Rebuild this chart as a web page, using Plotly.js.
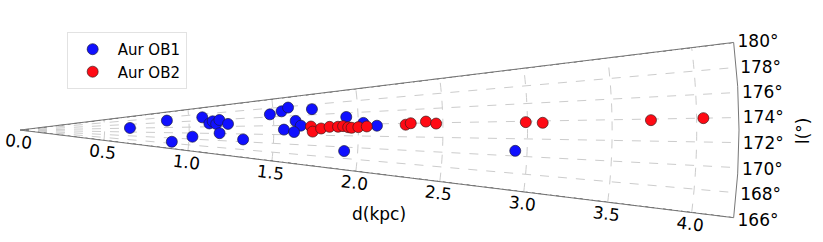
<!DOCTYPE html>
<html>
<head>
<meta charset="utf-8">
<script src="https://cdn.plot.ly/plotly-3.0.1.min.js"></script>
<style>html,body{margin:0;padding:0;background:#fff;}#chart{width:823px;height:242px;}</style>
</head>
<body>
<div id="chart"></div>
<script>
// Aur OB1 (blue): distance (kpc) and galactic longitude (deg)
const ob1_d = [0.65, 0.87, 0.90, 1.02, 1.08, 1.12, 1.14, 1.16, 1.18, 1.23, 1.18, 1.32,
               1.48, 1.55, 1.59, 1.73, 1.63, 1.66, 1.56, 1.62, 1.93, 1.92, 2.03, 2.11, 2.93];
const ob1_l = [174.1, 176.7, 168.6, 170.8, 177.0, 175.0, 175.6, 174.8, 175.9, 174.7, 172.1, 170.6,
               176.6, 177.1, 177.8, 177.1, 174.9, 173.9, 173.1, 172.6, 175.3, 169.3, 174.2, 173.7, 170.6];
// Aur OB2 (red)
const ob2_d = [1.72, 1.73, 1.78, 1.83, 1.88, 1.91, 1.94, 1.96, 2.00, 2.05,
               2.28, 2.31, 2.40, 2.46, 2.99, 3.09, 3.73, 4.04];
const ob2_l = [173.7, 172.7, 173.3, 173.6, 173.6, 173.7, 173.5, 173.4, 173.5, 173.6,
               173.8, 174.0, 174.2, 173.9, 173.9, 173.8, 173.9, 174.0];

const seriesNames = ['Aur OB1', 'Aur OB2'];
const lTicks = [166, 168, 170, 172, 174, 176, 178, 180];
const lTickText = lTicks.map(v => v + '°');
const dTicks = [0.0, 0.5, 1.0, 1.5, 2.0, 2.5, 3.0, 3.5, 4.0];
const L_MIN = 166, L_MAX = 180, D_MAX = 4.25;

const font = 'DejaVu Sans, sans-serif';
const lMid = (L_MIN + L_MAX) / 2;

const traces = [
  {type: 'scatterpolar', mode: 'lines', r: [0, D_MAX], theta: [L_MAX, L_MAX],
   line: {color: '#333', width: 1, dash: 'dot'}, showlegend: false, hoverinfo: 'skip'},
  {type: 'scatterpolar', mode: 'lines', r: [0, D_MAX], theta: [L_MIN, L_MIN],
   line: {color: '#333', width: 1, dash: 'dot'}, showlegend: false, hoverinfo: 'skip'},
  {type: 'scatterpolar', mode: 'markers', name: seriesNames[0], r: ob1_d, theta: ob1_l,
   marker: {color: '#1010ff', size: 11, line: {color: '#1a1a40', width: 0.7}}},
  {type: 'scatterpolar', mode: 'markers', name: seriesNames[1], r: ob2_d, theta: ob2_l,
   marker: {color: '#ff0a14', size: 11, line: {color: '#401a1a', width: 0.7}}}
];

const layout = {
  width: 823, height: 242,
  margin: {l: 0, r: 0, t: 0, b: 0},
  paper_bgcolor: '#fff',
  font: {family: font, size: 17, color: '#000'},
  showlegend: true,
  legend: {x: 0.081, y: 0.868, xanchor: 'left', yanchor: 'top',
           bgcolor: '#fff', bordercolor: '#e2e2e2', borderwidth: 1,
           font: {family: font, size: 15, color: '#000'}, itemwidth: 40},
  polar: {
    domain: {x: [20/823, 739/823], y: [0.05, 0.875]},
    sector: [-(L_MAX - L_MIN) / 2, (L_MAX - L_MIN) / 2],
    bgcolor: '#fff',
    angularaxis: {
      rotation: -lMid, direction: 'counterclockwise', thetaunit: 'degrees',
      tickmode: 'array', tickvals: lTicks, ticktext: lTickText, ticks: '',
      showgrid: true, gridcolor: '#cccccc', griddash: 'dash', gridwidth: 1,
      showline: true, linecolor: '#777', linewidth: 1,
      tickfont: {family: font, size: 17, color: '#000'}
    },
    radialaxis: {
      range: [0, D_MAX], tickmode: 'array', tickvals: dTicks, tickformat: '.1f',
      ticks: '', showline: false,
      showgrid: true, gridcolor: '#cccccc', griddash: 'dash', gridwidth: 1,
      tickfont: {family: font, size: 17, color: '#000'}, tickangle: 0
    }
  },
  annotations: [
    {text: 'd(kpc)', xref: 'paper', yref: 'paper', x: 379/823, y: 1 - 214/242,
     xanchor: 'center', yanchor: 'middle',
     showarrow: false, font: {family: font, size: 17, color: '#000'}},
    {text: 'l(°)', xref: 'paper', yref: 'paper', x: 803/823, y: 1 - 131/242,
     xanchor: 'center', yanchor: 'middle',
     showarrow: false, textangle: -90, font: {family: font, size: 17, color: '#000'}}
  ]
};

Plotly.newPlot('chart', traces, layout, {displayModeBar: false, staticPlot: true});
</script>
</body>
</html>
